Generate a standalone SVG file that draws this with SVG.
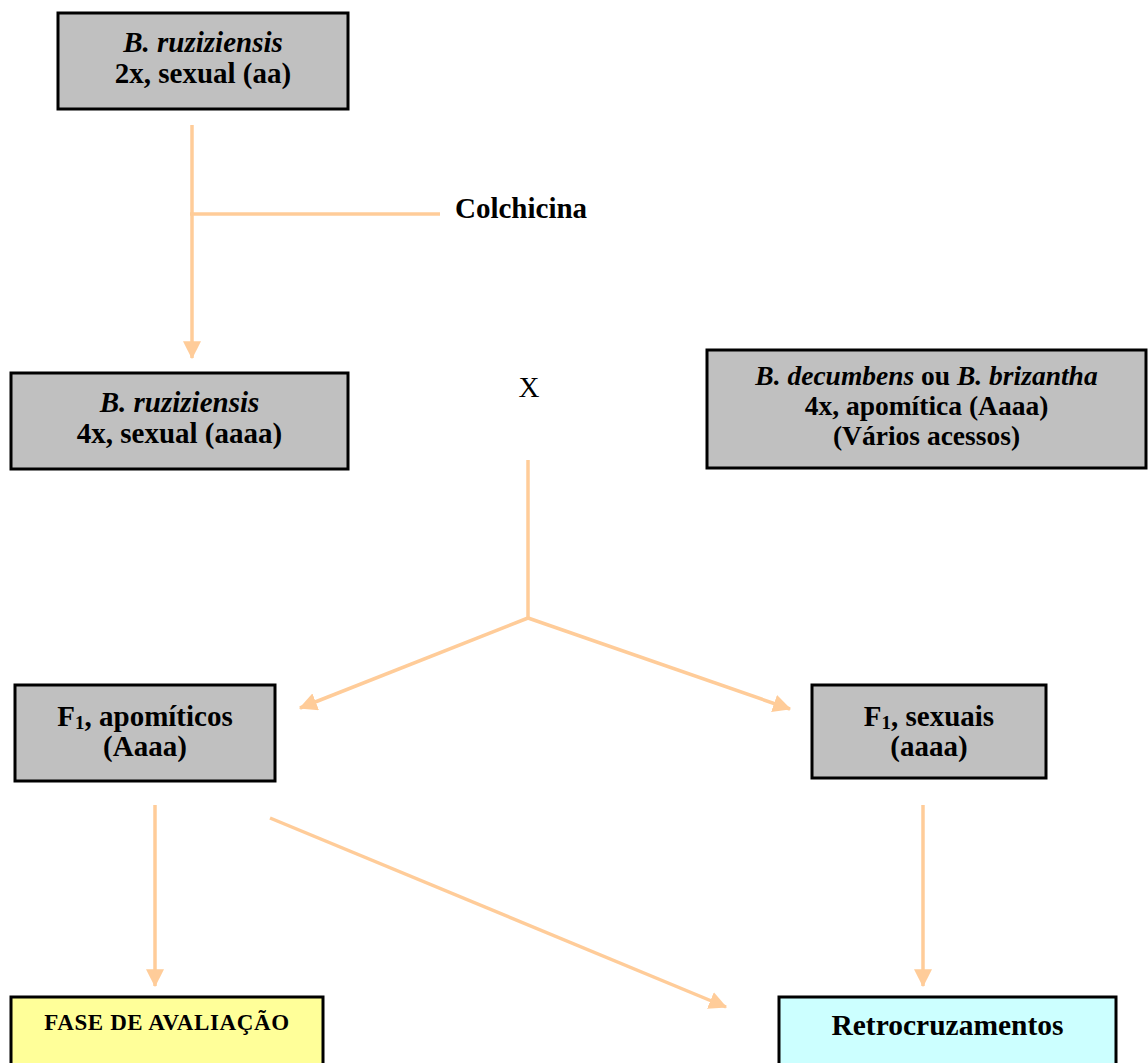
<svg xmlns="http://www.w3.org/2000/svg" width="1148" height="1063" viewBox="0 0 1148 1063">
<style>
.box{fill:#C0C0C0;stroke:#000;stroke-width:3}
.t{font-family:"Liberation Serif","Times New Roman",serif;font-weight:bold;font-size:29px;fill:#000;text-anchor:middle}
.i{font-style:italic}
.n{font-weight:normal}
.c{fill:none;stroke:#FFCC99;stroke-width:3.5}
.sub{font-size:19px}
.m{font-size:27.5px}
</style>
<defs>
<marker id="ah" markerUnits="userSpaceOnUse" markerWidth="18" markerHeight="18" viewBox="0 0 16 16" refX="15" refY="8" orient="auto">
<path d="M0,0 L16,8 L0,16 Z" fill="#FFCC99"/>
</marker>
</defs>
<g id="connectors">
<line class="c" x1="192" y1="125" x2="192" y2="358" marker-end="url(#ah)"/>
<line class="c" x1="190" y1="214" x2="440" y2="214"/>
<line class="c" x1="528" y1="460" x2="528" y2="618"/>
<line class="c" x1="528" y1="618" x2="300" y2="708" marker-end="url(#ah)"/>
<line class="c" x1="528" y1="618" x2="790" y2="709" marker-end="url(#ah)"/>
<line class="c" x1="155" y1="805" x2="155" y2="986" marker-end="url(#ah)"/>
<line class="c" x1="270" y1="818" x2="726" y2="1007" marker-end="url(#ah)"/>
<line class="c" x1="923" y1="805" x2="923" y2="986" marker-end="url(#ah)"/>
</g>
<g id="n1">
<rect class="box" x="58" y="13" width="290" height="96"/>
<text class="t i" x="203" y="52">B. ruziziensis</text>
<text class="t" x="203" y="83">2x, sexual (aa)</text>
</g>
<g id="colchicina">
<text class="t" x="455" y="218" style="text-anchor:start">Colchicina</text>
</g>
<g id="n2">
<rect class="box" x="11" y="373" width="337" height="96"/>
<text class="t i" x="179.5" y="412">B. ruziziensis</text>
<text class="t" x="179.5" y="443">4x, sexual (aaaa)</text>
</g>
<g id="x">
<text class="t n" x="529" y="397">X</text>
</g>
<g id="n3">
<rect class="box" x="707" y="350" width="439" height="118"/>
<text class="t m" x="926.5" y="385"><tspan class="i">B. decumbens</tspan> ou <tspan class="i">B. brizantha</tspan></text>
<text class="t m" x="926.5" y="415">4x, apomítica (Aaaa)</text>
<text class="t m" x="926.5" y="445">(Vários acessos)</text>
</g>
<g id="n4">
<rect class="box" x="15" y="685" width="260" height="96"/>
<text class="t" x="145" y="726">F<tspan class="sub" dy="3">1</tspan><tspan dy="-3">, apomíticos</tspan></text>
<text class="t" x="145" y="756">(Aaaa)</text>
</g>
<g id="n5">
<rect class="box" x="812" y="685" width="234" height="93"/>
<text class="t" x="929" y="726">F<tspan class="sub" dy="3">1</tspan><tspan dy="-3">, sexuais</tspan></text>
<text class="t" x="929" y="756">(aaaa)</text>
</g>
<g id="n6">
<rect x="11" y="997" width="312" height="80" fill="#FFFF99" stroke="#000" stroke-width="3"/>
<text class="t" x="167" y="1030" style="font-size:23px;letter-spacing:0.6px">FASE DE AVALIAÇÃO</text>
</g>
<g id="n7">
<rect x="779" y="997" width="337" height="80" fill="#CCFFFF" stroke="#000" stroke-width="3"/>
<text class="t" x="947.5" y="1035" style="font-size:29.5px">Retrocruzamentos</text>
</g>
</svg>
